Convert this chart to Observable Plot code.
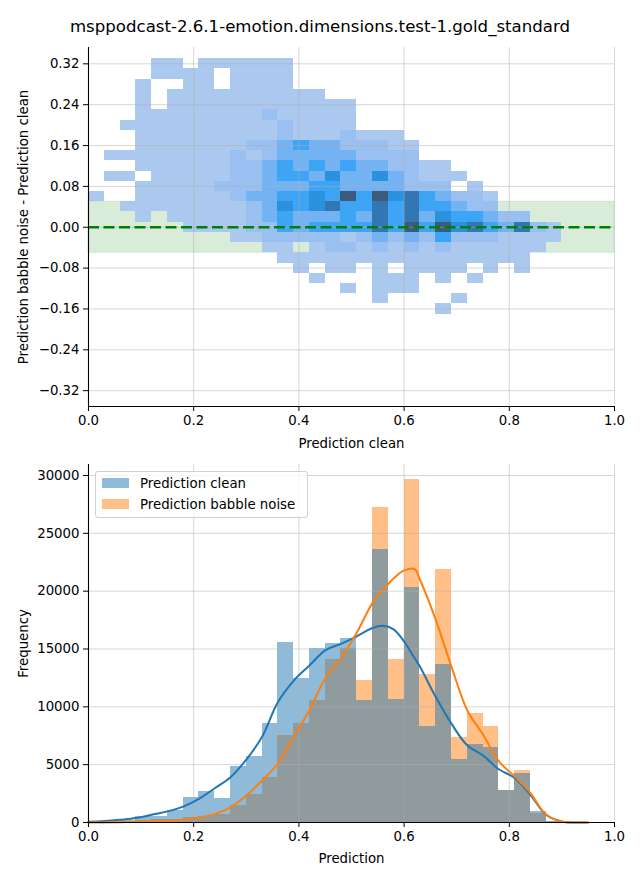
<!DOCTYPE html>
<html>
<head>
<meta charset="utf-8">
<script src="https://cdn.jsdelivr.net/npm/d3@7"></script>
<script src="https://cdn.jsdelivr.net/npm/@observablehq/plot@0.6"></script>
<style>
  body { margin: 0; background: #fff; font-family: "DejaVu Sans", sans-serif; }
  #wrap { position: relative; width: 640px; height: 880px; overflow: hidden; }
  #title { position: absolute; top: 17px; left: 0; width: 640px; text-align: center; font-size: 16.6px; color: #000; white-space: nowrap; }
  #top { position: absolute; left: 0; top: 40px; }
  #bot { position: absolute; left: 0; top: 450px; }
  #legend { position: absolute; left: 95px; top: 471px; width: 211px; height: 45px; border: 1px solid #d0d0d0; border-radius: 3px; background: rgba(255,255,255,0.8); font-size: 13.3px; color: #000; }
  .item { position: absolute; left: 0; height: 16px; width: 100%; }
  .sw { position: absolute; left: 6px; width: 27px; height: 10px; }
  .lab { position: absolute; left: 44px; top: -1px; white-space: nowrap; }
</style>
</head>
<body>
<div id="wrap">
  <div id="title"></div>
  <div id="top"></div>
  <div id="bot"></div>
  <div id="legend"></div>
</div>
<script>
// ---------- Text ----------
const titleText = "msppodcast-2.6.1-emotion.dimensions.test-1.gold_standard";
const topXLabel = "Prediction clean";
const topYLabel = "Prediction babble noise - Prediction clean";
const botXLabel = "Prediction";
const botYLabel = "Frequency";
const seriesNames = ["Prediction clean", "Prediction babble noise"];
const seriesColors = ["#1f77b4", "#ff7f0e"];

// ---------- Ticks ----------
const xTicks = [0, 0.2, 0.4, 0.6, 0.8, 1.0];
const yTicksTop = [-0.32, -0.24, -0.16, -0.08, 0, 0.08, 0.16, 0.24, 0.32];
const yTicksBot = [0, 5000, 10000, 15000, 20000, 25000, 30000];

// ---------- 2D histogram (top) ----------
// x bins (Prediction clean), width 0.03
const xBinStarts = [0.00, 0.03, 0.06, 0.09, 0.12, 0.15, 0.18, 0.21, 0.24, 0.27,
                    0.30, 0.33, 0.36, 0.39, 0.42, 0.45, 0.48, 0.51, 0.54, 0.57,
                    0.60, 0.63, 0.66, 0.69, 0.72, 0.75, 0.78, 0.81, 0.84, 0.87];
const xBinWidth = 0.03;
// y bins (difference), width 0.02, centers from top to bottom
const yBinCenters = [0.32, 0.30, 0.28, 0.26, 0.24, 0.22, 0.20, 0.18, 0.16, 0.14,
                     0.12, 0.10, 0.08, 0.06, 0.04, 0.02, 0.00, -0.02, -0.04, -0.06,
                     -0.08, -0.10, -0.12, -0.14, -0.16];
const yBinWidth = 0.02;
// density level per cell (1 = lowest, 7 = highest, "." = empty)
const heatRows = [
  "....11.111111.................",
  "....1111.1111.................",
  "...1..11.1111.................",
  "...1.1111111111...............",
  "...1.111111111111.............",
  "...11111111211111.............",
  "..111111111121111.............",
  "...11111111121112111..........",
  "...111111122343322211.........",
  ".11111111212333332222.........",
  "...11111122343434332211.......",
  ".11.11111223443533532111......",
  "...11111222333443333222.1.....",
  "1..11111123344547475643221....",
  "..111111112354564464644322....",
  "...1.11111234333436463544322..",
  "......111122434444647475643621",
  ".........112222212323242221111",
  "...........11.122121212111111.",
  "............1111111111111111..",
  ".............1.11.1.1111.1.1..",
  "..............1...111.1.1.....",
  "................1.111.........",
  "..................1....1......",
  "......................1......."
];
const levelDomain = [1, 2, 3, 4, 5, 6, 7];
const levelColors = ["#abc8ee", "#99c0f0", "#74b3f3", "#3ea5f6", "#2b91de", "#3277b4", "#3c5a7c"];
const bandLimits = [-0.05, 0.05];

// ---------- 1D histograms (bottom) ----------
const histBinStarts = [0.00, 0.03, 0.06, 0.09, 0.12, 0.15, 0.18, 0.21, 0.24, 0.27,
                       0.30, 0.33, 0.36, 0.39, 0.42, 0.45, 0.48, 0.51, 0.54, 0.57,
                       0.60, 0.63, 0.66, 0.69, 0.72, 0.75, 0.78, 0.81, 0.84, 0.87, 0.90];
const histBinWidth = 0.03;
const cleanCounts = [40, 100, 200, 480, 520, 1000, 2180, 2670, 2035, 4855,
                     5730, 8520, 15570, 12420, 15040, 15470, 15880, 10580, 23565, 10670,
                     20350, 8300, 13625, 5480, 6750, 6480, 2780, 4260, 960, 100, 20];
const noiseCounts = [0, 30, 80, 150, 220, 300, 440, 520, 700, 1450,
                     2410, 3920, 7560, 8520, 10520, 14100, 15030, 12300, 27190, 14100,
                     29620, 12800, 21830, 7390, 9420, 8260, 2780, 4520, 780, 90, 10];

// KDE curves
const kdeX = [0.00, 0.03, 0.06, 0.09, 0.12, 0.15, 0.18, 0.21, 0.24, 0.27,
              0.30, 0.33, 0.36, 0.39, 0.42, 0.45, 0.48, 0.51, 0.54, 0.56,
              0.58, 0.60, 0.62, 0.63, 0.66, 0.69, 0.72, 0.75, 0.78, 0.81,
              0.84, 0.87, 0.90, 0.93, 0.95];
const kdeClean = [58, 130, 240, 380, 670, 960, 1370, 2035, 2965, 3920,
                  5440, 7410, 10400, 12250, 13570, 14880, 15450, 16100, 16810, 17000,
                  16700, 15650, 14200, 13480, 10870, 8550, 6670, 5800, 4600, 3855,
                  2400, 670, 90, 5, 0];
const kdeNoise = [0, 10, 30, 60, 100, 145, 230, 435, 725, 1310,
                  2325, 3630, 5080, 7400, 9700, 12450, 14200, 16400, 18990, 20100,
                  21100, 21800, 21900, 21010, 17540, 13480, 9710, 7600, 5300, 4000,
                  2550, 670, 90, 5, 0];

// ---------- Build tables ----------
const cells = [];
heatRows.forEach((row, i) => {
  for (let j = 0; j < row.length; j++) {
    const ch = row[j];
    if (ch !== ".") {
      cells.push({
        x1: xBinStarts[j], x2: xBinStarts[j] + xBinWidth,
        y1: yBinCenters[i] - yBinWidth / 2, y2: yBinCenters[i] + yBinWidth / 2,
        level: +ch
      });
    }
  }
});
const cleanBins = histBinStarts.map((s, i) => ({x1: s, x2: s + histBinWidth, y: cleanCounts[i]}));
const noiseBins = histBinStarts.map((s, i) => ({x1: s, x2: s + histBinWidth, y: noiseCounts[i]}));
const cleanKde = kdeX.map((x, i) => ({x, y: kdeClean[i]}));
const noiseKde = kdeX.map((x, i) => ({x, y: kdeNoise[i]}));

const font = {fontFamily: "'DejaVu Sans', sans-serif", fontSize: "13.3px", color: "#000", background: "#fff", overflow: "visible"};
const gridStyle = {stroke: "#b0b0b0", strokeOpacity: 0.5, strokeWidth: 1};
const topYDomain = [-0.351, 0.352];
const botYDomain = [0, 30950];

document.getElementById("title").textContent = titleText;

const topPlot = Plot.plot({
  width: 640, height: 410,
  marginLeft: 88, marginRight: 26, marginTop: 7, marginBottom: 44,
  style: font,
  x: {domain: [0, 1]},
  y: {domain: topYDomain},
  color: {type: "linear", domain: levelDomain, range: levelColors},
  marks: [
    Plot.rect([bandLimits], {x1: () => 0, x2: () => 1, y1: d => d[0], y2: d => d[1], fill: "green", fillOpacity: 0.15, stroke: "green", strokeOpacity: 0.12}),
    Plot.rect(cells, {x1: "x1", x2: "x2", y1: "y1", y2: "y2", fill: "level", shapeRendering: "crispEdges"}),
    Plot.gridX(xTicks, gridStyle),
    Plot.gridY(yTicksTop, gridStyle),
    Plot.ruleY([0], {stroke: "#008000", strokeWidth: 2.6, strokeDasharray: "11,4.5"}),
    Plot.axisX({ticks: xTicks, tickFormat: d3.format(".1f"), tickSize: 5, tickPadding: 4, label: topXLabel, labelAnchor: "center", labelArrow: "none", labelOffset: 41}),
    Plot.axisY({ticks: yTicksTop, tickFormat: d3.format(".2f"), tickSize: 5, tickPadding: 4, label: topYLabel, labelAnchor: "center", labelArrow: "none", labelOffset: 70}),
    Plot.ruleX([0], {stroke: "#000", strokeWidth: 1.1}),
    Plot.ruleY([topYDomain[0]], {stroke: "#000", strokeWidth: 1.1})
  ]
});
document.getElementById("top").append(topPlot);

const botPlot = Plot.plot({
  width: 640, height: 430,
  marginLeft: 88, marginRight: 26, marginTop: 14, marginBottom: 58,
  style: font,
  x: {domain: [0, 1]},
  y: {domain: botYDomain},
  marks: [
    Plot.rectY(noiseBins, {x1: "x1", x2: "x2", y: "y", fill: seriesColors[1], fillOpacity: 0.5, shapeRendering: "crispEdges"}),
    Plot.rectY(cleanBins, {x1: "x1", x2: "x2", y: "y", fill: seriesColors[0], fillOpacity: 0.5, shapeRendering: "crispEdges"}),
    Plot.gridX(xTicks, gridStyle),
    Plot.gridY(yTicksBot, gridStyle),
    Plot.line(cleanKde, {x: "x", y: "y", stroke: seriesColors[0], strokeWidth: 2, curve: "catmull-rom"}),
    Plot.line(noiseKde, {x: "x", y: "y", stroke: seriesColors[1], strokeWidth: 2, curve: "catmull-rom"}),
    Plot.axisX({ticks: xTicks, tickFormat: d3.format(".1f"), tickSize: 5, tickPadding: 4, label: botXLabel, labelAnchor: "center", labelArrow: "none", labelOffset: 40}),
    Plot.axisY({ticks: yTicksBot, tickFormat: d3.format("d"), tickSize: 5, tickPadding: 4, label: botYLabel, labelAnchor: "center", labelArrow: "none", labelOffset: 70}),
    Plot.ruleX([0], {stroke: "#000", strokeWidth: 1.1}),
    Plot.ruleY([0], {stroke: "#000", strokeWidth: 1.1})
  ]
});
document.getElementById("bot").append(botPlot);

// legend
const legend = document.getElementById("legend");
seriesNames.forEach((name, i) => {
  const item = document.createElement("div");
  item.className = "item";
  item.style.top = (5 + i * 21) + "px";
  const sw = document.createElement("div");
  sw.className = "sw";
  sw.style.top = "1px";
  sw.style.background = seriesColors[i];
  sw.style.opacity = 0.5;
  const lab = document.createElement("div");
  lab.className = "lab";
  lab.textContent = name;
  item.append(sw, lab);
  legend.append(item);
});
</script>
</body>
</html>
